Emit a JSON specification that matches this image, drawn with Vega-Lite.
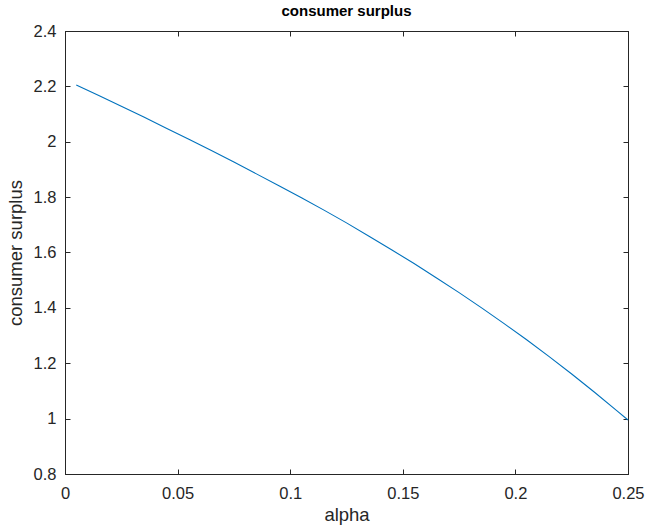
{
  "$schema": "https://vega.github.io/schema/vega-lite/v6.json",
  "width": 563,
  "height": 443,
  "autosize": {"type": "none"},
  "padding": {"left": 65, "top": 31, "right": 19, "bottom": 57},
  "background": "white",
  "title": {"text": "consumer surplus", "font": "Liberation Sans", "fontSize": 15, "fontWeight": "bold", "color": "#000000", "offset": 4},
  "config": {
    "view": {"stroke": "#262626", "strokeWidth": 1},
    "axis": {"grid": false, "domainColor": "#262626", "tickColor": "#262626", "labelColor": "#262626", "titleColor": "#262626", "labelFont": "Liberation Sans", "titleFont": "Liberation Sans", "labelFontSize": 16.5, "titleFontSize": 18.5, "titleFontWeight": "normal", "tickSize": -5, "domainWidth": 1, "format": "~g"}
  },
  "data": {"values": [
    {"alpha": 0.005, "cs": 2.205},
    {"alpha": 0.015, "cs": 2.167},
    {"alpha": 0.025, "cs": 2.128},
    {"alpha": 0.035, "cs": 2.089},
    {"alpha": 0.045, "cs": 2.049},
    {"alpha": 0.055, "cs": 2.009},
    {"alpha": 0.065, "cs": 1.968},
    {"alpha": 0.075, "cs": 1.927},
    {"alpha": 0.085, "cs": 1.884},
    {"alpha": 0.095, "cs": 1.841},
    {"alpha": 0.105, "cs": 1.798},
    {"alpha": 0.115, "cs": 1.753},
    {"alpha": 0.125, "cs": 1.707},
    {"alpha": 0.135, "cs": 1.659},
    {"alpha": 0.145, "cs": 1.610},
    {"alpha": 0.155, "cs": 1.560},
    {"alpha": 0.165, "cs": 1.508},
    {"alpha": 0.175, "cs": 1.455},
    {"alpha": 0.185, "cs": 1.400},
    {"alpha": 0.195, "cs": 1.343},
    {"alpha": 0.205, "cs": 1.285},
    {"alpha": 0.215, "cs": 1.224},
    {"alpha": 0.225, "cs": 1.161},
    {"alpha": 0.235, "cs": 1.096},
    {"alpha": 0.245, "cs": 1.029},
    {"alpha": 0.250, "cs": 0.995}
  ]},
  "layer": [
    {
      "mark": {"type": "line", "color": "#0072BD", "strokeWidth": 1.1},
      "encoding": {
        "x": {"field": "alpha", "type": "quantitative", "scale": {"domain": [0, 0.25], "nice": false, "zero": false},
              "axis": {"orient": "bottom", "title": "alpha", "values": [0, 0.05, 0.1, 0.15, 0.2, 0.25], "labelPadding": 16, "titlePadding": 4, "labelFlush": false}},
        "y": {"field": "cs", "type": "quantitative", "scale": {"domain": [0.8, 2.4], "nice": false, "zero": false},
              "axis": {"orient": "left", "title": "consumer surplus", "values": [0.8, 1, 1.2, 1.4, 1.6, 1.8, 2, 2.2, 2.4], "labelPadding": 14, "titlePadding": 8, "labelFlush": false}}
      }
    },
    {
      "mark": {"type": "line", "opacity": 0},
      "encoding": {
        "x": {"field": "alpha", "type": "quantitative", "scale": {"domain": [0, 0.25], "nice": false, "zero": false},
              "axis": {"orient": "top", "title": null, "labels": false, "values": [0, 0.05, 0.1, 0.15, 0.2, 0.25]}},
        "y": {"field": "cs", "type": "quantitative", "scale": {"domain": [0.8, 2.4], "nice": false, "zero": false},
              "axis": {"orient": "right", "title": null, "labels": false, "values": [0.8, 1, 1.2, 1.4, 1.6, 1.8, 2, 2.2, 2.4]}}
      }
    }
  ],
  "resolve": {"axis": {"x": "independent", "y": "independent"}}
}
